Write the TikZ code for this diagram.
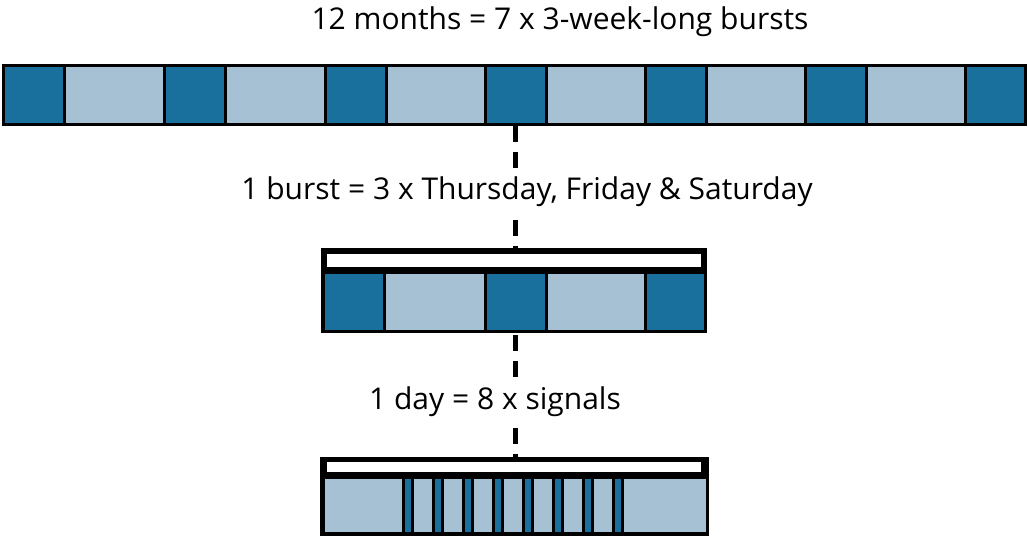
\documentclass[tikz,border=0pt]{standalone}
\usepackage{fontspec}
\setmainfont{Open Sans}
\definecolor{dk}{HTML}{19709C}
\definecolor{lt}{HTML}{A6C1D3}
\begin{document}
\begin{tikzpicture}[x=1pt,y=-1pt,
  cell/.style={draw=black,line width=3pt},
  dashline/.style={line width=5pt,dash pattern=on 16pt off 10pt},
  lbl/.style={font=\fontsize{30}{34}\selectfont,inner sep=0pt}]
\useasboundingbox (0,0) rectangle (1028,538);
% top bar
\foreach \a/\b/\c in {3/64/dk,64/164/lt,164/225/dk,225/325/lt,325/386/dk,386/485/lt,485/546/dk,546/645/lt,645/706/dk,706/805/lt,805/866/dk,866/965/lt,965/1025/dk}
  \draw[cell,fill=\c] (\a,65) rectangle (\b,124);
\node[lbl] (t1) at (560,22) {12 months = 7 x 3-week-long bursts};
% middle
\fill[black] (321,248) rectangle (707,333);
\fill[white] (327,254) rectangle (701,267);
\foreach \a/\b/\c in {323/384/dk,384/485/lt,485/546/dk,546/645/lt,645/705/dk}
  \draw[cell,fill=\c] (\a,272) rectangle (\b,331);
\node[lbl] (t2) at (527,192) {1 burst = 3 x Thursday, Friday \& Saturday};
% bottom
\fill[black] (320,457) rectangle (709,536);
\fill[white] (327,462) rectangle (701,472);
\draw[cell,fill=lt] (323,477) rectangle (707,533);
\foreach \i in {0,...,7}{
  \draw[cell,fill=dk] ({403+30*\i},477) rectangle ({412+30*\i},533);}
\foreach \i in {0,...,6}{
  \draw[cell] ({412+30*\i},477) -- ({412+30*\i},533);}
\node[lbl] (t3) at (495,402) {1 day = 8 x signals};
% dashed connectors
\coordinate (a1) at (515,126); \coordinate (a2) at (515,168);
\coordinate (b1) at (515,220); \coordinate (b2) at (515,248);
\coordinate (c1) at (515,335); \coordinate (c2) at (515,378);
\coordinate (d1) at (515,428); \coordinate (d2) at (515,457);
\draw[dashline] (a1) -- (a2);
\draw[dashline] (b1) -- (b2);
\draw[dashline] (c1) -- (c2);
\draw[dashline] (d1) -- (d2);
\end{tikzpicture}
\end{document}
